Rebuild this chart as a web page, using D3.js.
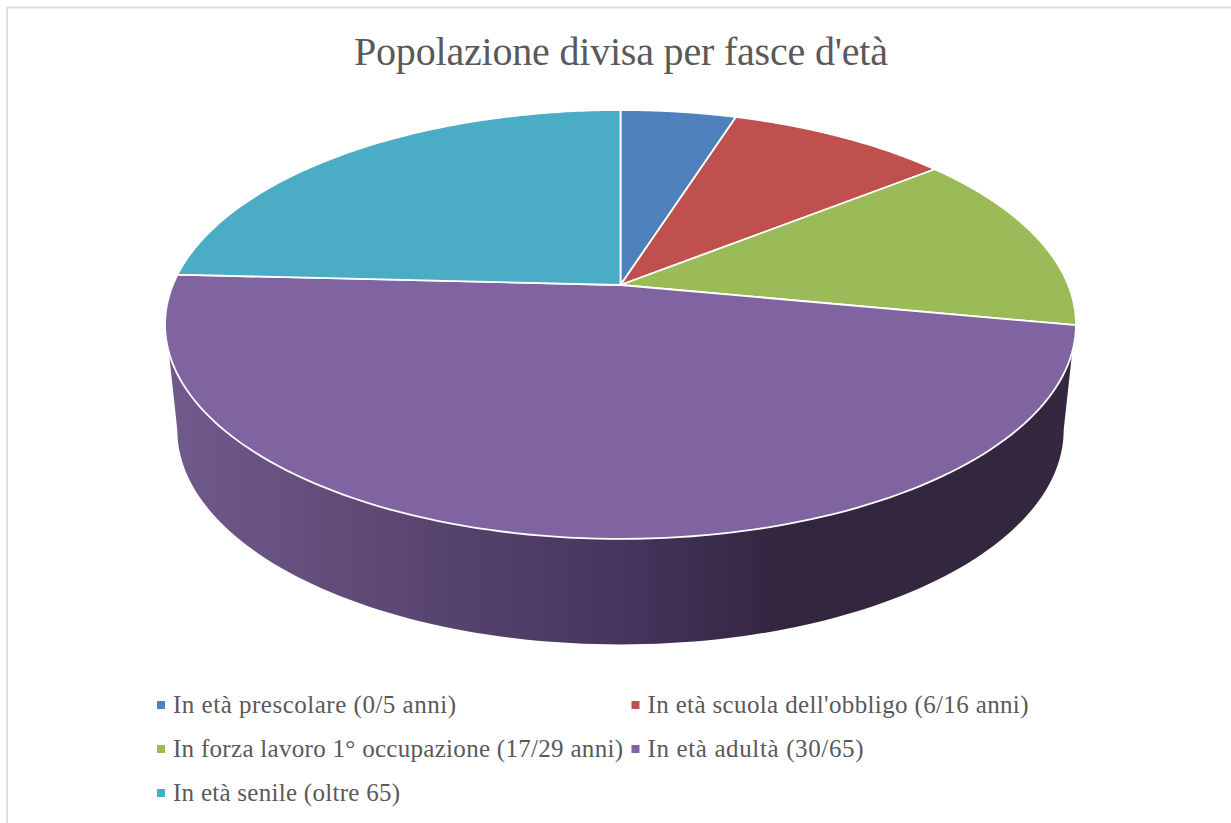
<!DOCTYPE html>
<meta charset="utf-8">
<script src="https://d3js.org/d3.v7.min.js"></script>
<style>
  html, body { margin: 0; background: #fff; }
  svg { display: block; }
  text { font-family: 'Liberation Serif', serif; fill: #595959; }
</style>
<body>
<div id="chart"></div>
<script>
var titleText = "Popolazione divisa per fasce d'età";
var categories = ["In età prescolare (0/5 anni)", "In età scuola dell'obbligo (6/16 anni)",
  "In forza lavoro 1° occupazione (17/29 anni)", "In età adultà (30/65)", "In età senile (oltre 65)"];
var values = [4.9, 9.4, 13.7, 47.8, 24.2];
var colors = ["#4f81bd", "#c0504d", "#9bbb59", "#8064a2", "#4bacc6"];
var legendCols = [157, 631.5];
var legendRows = [705, 749, 793];
var legendCol = [0, 1, 0, 1, 0];
var legendRow = [0, 0, 1, 1, 2];
var legendWidths = [283, 381, 450, 216, 227];

var width = 1231, height = 823;
var svg = d3.select("#chart").append("svg").attr("width", width).attr("height", height);

// frame, only left and top edges are in the crop
svg.append("path").attr("d", "M7,823V7.5H1231").attr("fill", "none").attr("stroke", "#dedede").attr("stroke-width", 2);

// pie seen in perspective: unit circle -> screen
var cx = 620.5, cy = 285, k = 0.184, A = 447.7, B = 207.2, depth = 105.5;
function project(a, scale) {
  var u = Math.sin(a), v = Math.cos(a), w = 1 + k * v;
  return [cx + scale * A * u / w, cy - B * v / w];
}
function upperRim(a) { return project(a, 1); }
// lower rim is the same ring pushed down and a bit narrower
function lowerRim(a) {
  var p = project(a, 0.973);
  return [p[0], p[1] + depth];
}
function ring(fn, a0, a1) {
  return d3.range(0, 121).map(function(i) { return fn(a0 + (a1 - a0) * i / 120); });
}
function rad(deg) { return deg * Math.PI / 180; }
var line = d3.line();

var arcs = d3.pie().sort(null)(values);

// side wall
var grad = svg.append("defs").append("linearGradient").attr("id", "wall")
  .attr("gradientUnits", "userSpaceOnUse").attr("x1", 165).attr("x2", 1076).attr("y1", 0).attr("y2", 0);
[[0, "#715a8d"], [0.25, "#5c4872"], [0.5, "#46355e"], [0.68, "#33253f"], [1, "#332840"]].forEach(function(s) {
  grad.append("stop").attr("offset", s[0]).attr("stop-color", s[1]);
});
var wallPts = ring(upperRim, rad(107.8), rad(252.2)).concat(ring(lowerRim, rad(259.4), rad(100.6)));
svg.append("path").attr("d", line(wallPts) + "Z").attr("fill", "url(#wall)");

// top face
svg.selectAll("path.slice").data(arcs).enter().append("path")
  .attr("class", "slice")
  .attr("d", function(d) { return line([[cx, cy]].concat(ring(upperRim, d.startAngle, d.endAngle))) + "Z"; })
  .attr("fill", function(d, i) { return colors[i]; })
  .attr("stroke", "#fff").attr("stroke-width", 1.8).attr("stroke-linejoin", "round");

// title
svg.append("text").attr("x", 621).attr("y", 64.5).attr("text-anchor", "middle")
  .attr("font-size", 40).attr("textLength", 534).text(titleText);

// legend
categories.forEach(function(c, i) {
  var x = legendCols[legendCol[i]], y = legendRows[legendRow[i]];
  svg.append("rect").attr("x", x).attr("y", y - 4).attr("width", 8).attr("height", 8).attr("fill", colors[i]);
  svg.append("text").attr("x", x + 16).attr("y", y + 8).attr("font-size", 25)
    .attr("textLength", legendWidths[i]).text(c);
});
</script>
</body>
